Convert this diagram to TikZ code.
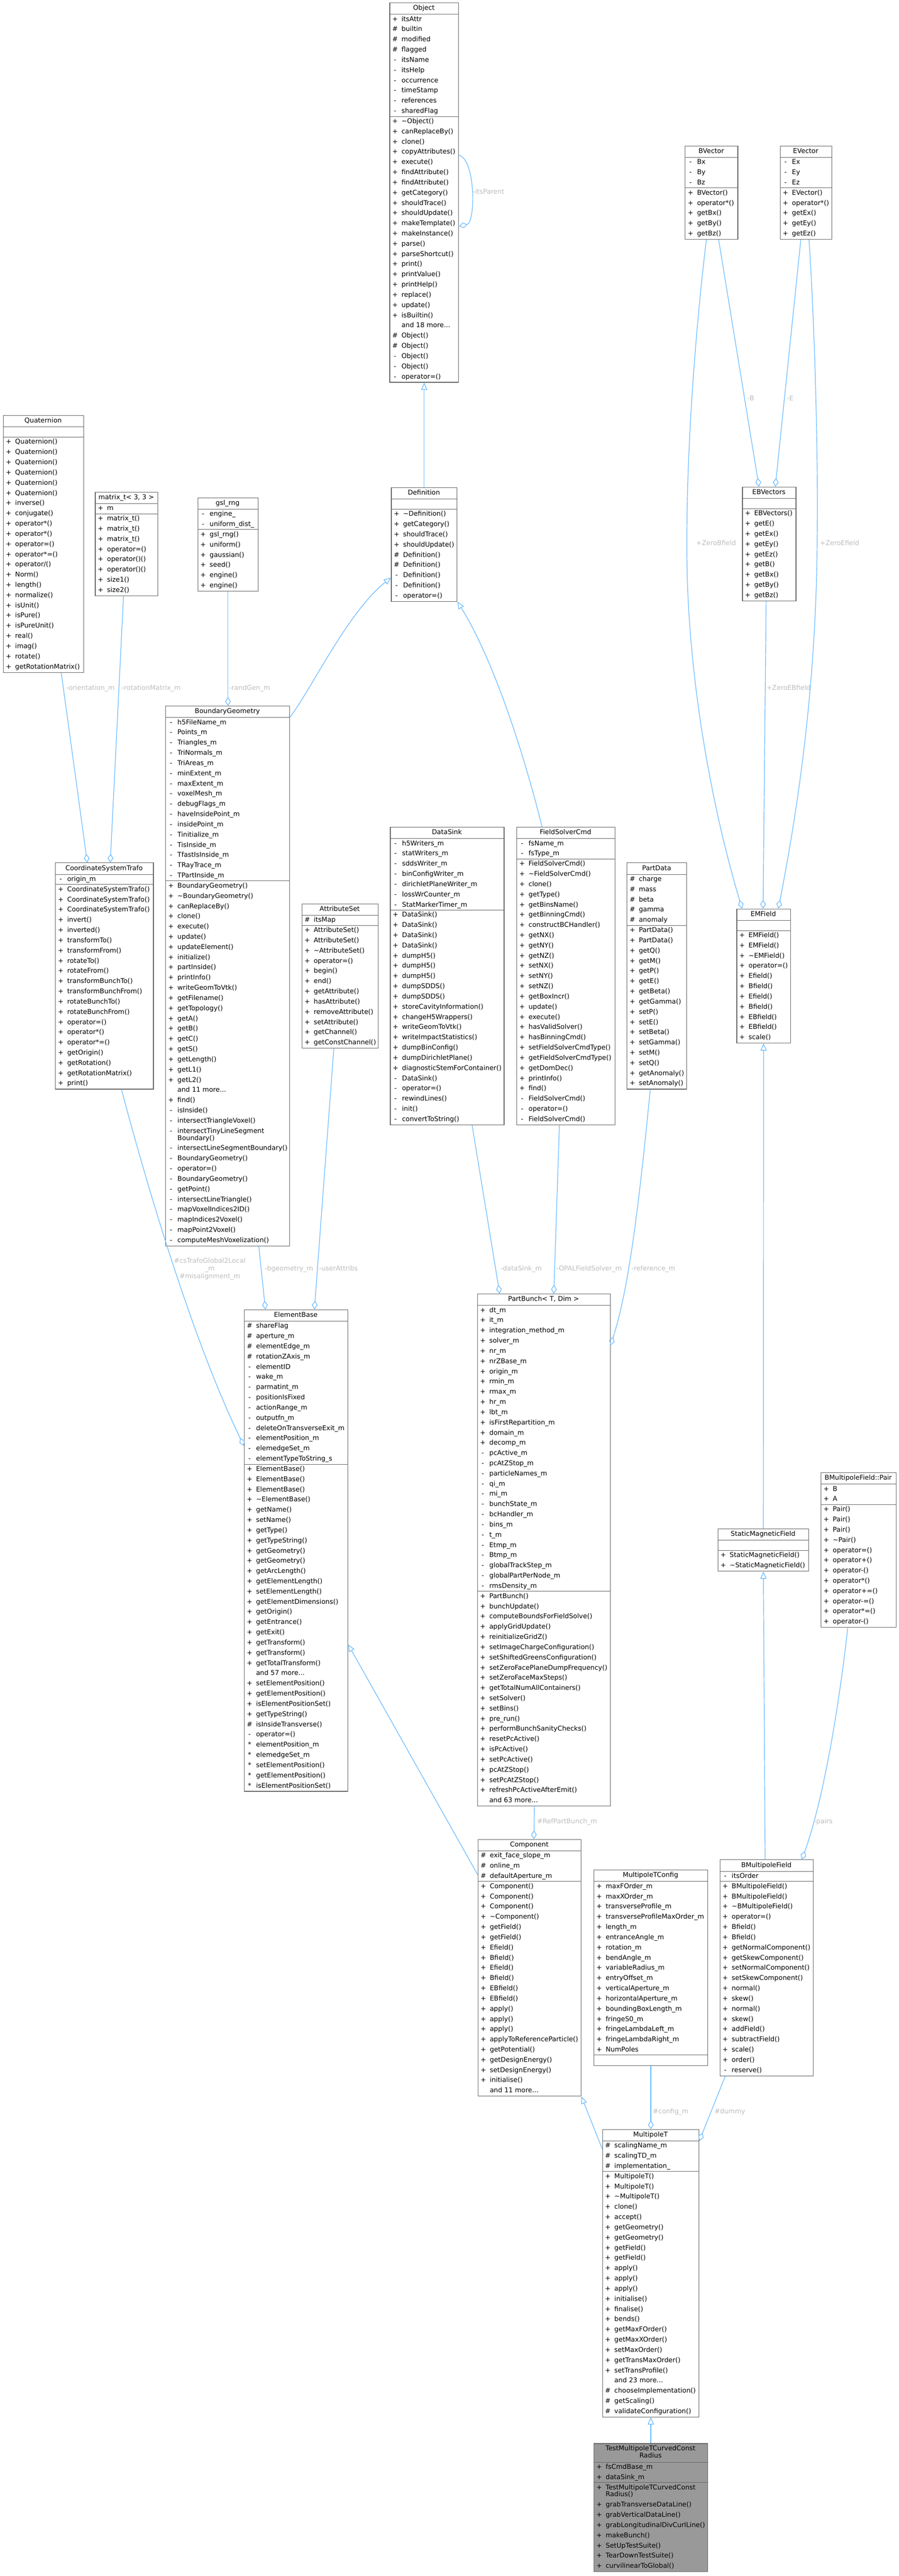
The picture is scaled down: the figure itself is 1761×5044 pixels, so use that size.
\documentclass[tikz,border=0pt]{standalone}
\usepackage{fontspec}
\setmainfont{DejaVu Sans}
\usetikzlibrary{arrows.meta,calc}
\pgfdeclarelayer{boxes}
\pgfsetlayers{boxes,main}
\definecolor{boxline}{HTML}{666666}
\definecolor{edgecol}{HTML}{63B8FF}
\definecolor{lblcol}{HTML}{BEBEBE}
\definecolor{hlfill}{HTML}{999999}
\newcount\Rk
\newcommand\CAdv[1]{\pgfmathsetmacro\tmpy{\Cy+#1}\xdef\Cy{\tmpy}}
\newcommand\CBegin[4]{\xdef\Bn{#1}\xdef\Bx{#2}\xdef\By{#3}\xdef\Bw{#4}\xdef\Cy{#3}\global\Rk=0\relax}
\newcommand\CTitle[1]{\node[titletext] (\Bn-title) at (\Bx+\Bw/2,\Cy+11.5) {#1};\CAdv{23}}
\newcommand\CTitleTwo[2]{\node[titletext] (\Bn-title) at (\Bx+\Bw/2,\Cy+11) {#1};\node[titletext] (\Bn-titleb) at (\Bx+\Bw/2,\Cy+25) {#2};\CAdv{37}}
\newcommand\CSep{\draw[sepline] (\Bx,\Cy) -- (\Bx+\Bw,\Cy);}
\newcommand\CRow[2]{\global\advance\Rk by 1\relax\node[rowmark] (\Bn-m\the\Rk) at (\Bx+11,\Cy+10) {#1};\node[rowtext] (\Bn-r\the\Rk) at (\Bx+23.5,\Cy+10) {#2};\CAdv{20}}
\newcommand\CRowTwo[3]{\global\advance\Rk by 1\relax\node[rowmark] (\Bn-m\the\Rk) at (\Bx+11,\Cy+10) {#1};\node[rowtext] (\Bn-r\the\Rk) at (\Bx+23.5,\Cy+10) {#2};\node[rowtext] (\Bn-s\the\Rk) at (\Bx+23.5,\Cy+24) {#3};\CAdv{34}}
\newcommand\CEmpty{\CAdv{20}}
\newcommand\CEnd[1][]{\pgfmathsetmacro\hh{\Cy-\By}\begin{pgfonlayer}{boxes}\node[classbox,minimum width=\Bw pt,minimum height=\hh pt,#1] (\Bn) at (\Bx,\By) {};\end{pgfonlayer}}
\newcommand\tl{\textasciitilde}
\tikzset{
 x=1pt, y=-1pt,
 classbox/.style={draw=boxline, line width=1.2pt, inner sep=0pt, anchor=north west},
 sepline/.style={draw=boxline, line width=1pt},
 txt/.style={font=\fontsize{13}{15}\selectfont, inner sep=0pt, text height=9.5pt, text depth=2.5pt},
 rowtext/.style={txt, anchor=west},
 rowmark/.style={txt, anchor=center},
 titletext/.style={txt, anchor=center},
 elabel/.style={txt, text=lblcol, anchor=center},
 usage/.style={draw=edgecol, line width=1.2pt, -{Diamond[open, length=17pt, width=11pt, line width=1.2pt]}},
 inherit/.style={draw=edgecol, line width=1.2pt, -{Triangle[open, length=14pt, width=12pt, line width=1.2pt]}},
}
\begin{document}
\begin{tikzpicture}
\begin{pgfonlayer}{boxes}
\fill[white] (0,0) rectangle (1761,5044);
\end{pgfonlayer}
\useasboundingbox (0,0) rectangle (1761,5044);

% ---------------- Object
\CBegin{obj}{763}{5}{135}
\CTitle{Object}\CSep
\CRow{+}{itsAttr}\CRow{\#}{builtin}\CRow{\#}{modified}\CRow{\#}{flagged}\CRow{-}{itsName}\CRow{-}{itsHelp}\CRow{-}{occurrence}\CRow{-}{timeStamp}\CRow{-}{references}\CRow{-}{sharedFlag}\CSep
\CRow{+}{\tl Object()}\CRow{+}{canReplaceBy()}\CRow{+}{clone()}\CRow{+}{copyAttributes()}\CRow{+}{execute()}\CRow{+}{findAttribute()}\CRow{+}{findAttribute()}\CRow{+}{getCategory()}\CRow{+}{shouldTrace()}\CRow{+}{shouldUpdate()}\CRow{+}{makeTemplate()}\CRow{+}{makeInstance()}\CRow{+}{parse()}\CRow{+}{parseShortcut()}\CRow{+}{print()}\CRow{+}{printValue()}\CRow{+}{printHelp()}\CRow{+}{replace()}\CRow{+}{update()}\CRow{+}{isBuiltin()}\CRow{}{and 18 more...}\CRow{\#}{Object()}\CRow{\#}{Object()}\CRow{-}{Object()}\CRow{-}{Object()}\CRow{-}{operator=()}
\CEnd

% ---------------- BVector
\CBegin{bv}{1342}{285}{103}
\CTitle{BVector}\CSep
\CRow{-}{Bx}\CRow{-}{By}\CRow{-}{Bz}\CSep
\CRow{+}{BVector()}\CRow{+}{operator*()}\CRow{+}{getBx()}\CRow{+}{getBy()}\CRow{+}{getBz()}
\CEnd

% ---------------- EVector
\CBegin{ev}{1528}{285}{101}
\CTitle{EVector}\CSep
\CRow{-}{Ex}\CRow{-}{Ey}\CRow{-}{Ez}\CSep
\CRow{+}{EVector()}\CRow{+}{operator*()}\CRow{+}{getEx()}\CRow{+}{getEy()}\CRow{+}{getEz()}
\CEnd

% ---------------- Quaternion
\CBegin{quat}{6}{813}{157}
\CTitle{Quaternion}\CSep\CEmpty\CSep
\CRow{+}{Quaternion()}\CRow{+}{Quaternion()}\CRow{+}{Quaternion()}\CRow{+}{Quaternion()}\CRow{+}{Quaternion()}\CRow{+}{Quaternion()}\CRow{+}{inverse()}\CRow{+}{conjugate()}\CRow{+}{operator*()}\CRow{+}{operator*()}\CRow{+}{operator=()}\CRow{+}{operator*=()}\CRow{+}{operator/()}\CRow{+}{Norm()}\CRow{+}{length()}\CRow{+}{normalize()}\CRow{+}{isUnit()}\CRow{+}{isPure()}\CRow{+}{isPureUnit()}\CRow{+}{real()}\CRow{+}{imag()}\CRow{+}{rotate()}\CRow{+}{getRotationMatrix()}
\CEnd

% ---------------- matrix_t
\CBegin{mat}{186}{963}{123}
\CTitle{matrix\_t< 3, 3 >}\CSep
\CRow{+}{m}\CSep
\CRow{+}{matrix\_t()}\CRow{+}{matrix\_t()}\CRow{+}{matrix\_t()}\CRow{+}{operator=()}\CRow{+}{operator()()}\CRow{+}{operator()()}\CRow{+}{size1()}\CRow{+}{size2()}
\CEnd

% ---------------- gsl_rng
\CBegin{gsl}{387}{974}{118}
\CTitle{gsl\_rng}\CSep
\CRow{-}{engine\_}\CRow{-}{uniform\_dist\_}\CSep
\CRow{+}{gsl\_rng()}\CRow{+}{uniform()}\CRow{+}{gaussian()}\CRow{+}{seed()}\CRow{+}{engine()}\CRow{+}{engine()}
\CEnd

% ---------------- Definition
\CBegin{def}{766}{954}{129}
\CTitle{Definition}\CSep\CEmpty\CSep
\CRow{+}{\tl Definition()}\CRow{+}{getCategory()}\CRow{+}{shouldTrace()}\CRow{+}{shouldUpdate()}\CRow{\#}{Definition()}\CRow{\#}{Definition()}\CRow{-}{Definition()}\CRow{-}{Definition()}\CRow{-}{operator=()}
\CEnd

% ---------------- EBVectors
\CBegin{ebv}{1454}{953}{105}
\CTitle{EBVectors}\CSep\CEmpty\CSep
\CRow{+}{EBVectors()}\CRow{+}{getE()}\CRow{+}{getEx()}\CRow{+}{getEy()}\CRow{+}{getEz()}\CRow{+}{getB()}\CRow{+}{getBx()}\CRow{+}{getBy()}\CRow{+}{getBz()}
\CEnd

% ---------------- BoundaryGeometry
\CBegin{bg}{324}{1382}{243}
\CTitle{BoundaryGeometry}\CSep
\CRow{-}{h5FileName\_m}\CRow{-}{Points\_m}\CRow{-}{Triangles\_m}\CRow{-}{TriNormals\_m}\CRow{-}{TriAreas\_m}\CRow{-}{minExtent\_m}\CRow{-}{maxExtent\_m}\CRow{-}{voxelMesh\_m}\CRow{-}{debugFlags\_m}\CRow{-}{haveInsidePoint\_m}\CRow{-}{insidePoint\_m}\CRow{-}{Tinitialize\_m}\CRow{-}{TisInside\_m}\CRow{-}{TfastIsInside\_m}\CRow{-}{TRayTrace\_m}\CRow{-}{TPartInside\_m}\CSep
\CRow{+}{BoundaryGeometry()}\CRow{+}{\tl BoundaryGeometry()}\CRow{+}{canReplaceBy()}\CRow{+}{clone()}\CRow{+}{execute()}\CRow{+}{update()}\CRow{+}{updateElement()}\CRow{+}{initialize()}\CRow{+}{partInside()}\CRow{+}{printInfo()}\CRow{+}{writeGeomToVtk()}\CRow{+}{getFilename()}\CRow{+}{getTopology()}\CRow{+}{getA()}\CRow{+}{getB()}\CRow{+}{getC()}\CRow{+}{getS()}\CRow{+}{getLength()}\CRow{+}{getL1()}\CRow{+}{getL2()}\CRow{}{and 11 more...}\CRow{+}{find()}\CRow{-}{isInside()}\CRow{-}{intersectTriangleVoxel()}\CRowTwo{-}{intersectTinyLineSegment}{Boundary()}\CRow{-}{intersectLineSegmentBoundary()}\CRow{-}{BoundaryGeometry()}\CRow{-}{operator=()}\CRow{-}{BoundaryGeometry()}\CRow{-}{getPoint()}\CRow{-}{intersectLineTriangle()}\CRow{-}{mapVoxelIndices2ID()}\CRow{-}{mapIndices2Voxel()}\CRow{-}{mapPoint2Voxel()}\CRow{-}{computeMeshVoxelization()}
\CEnd

% ---------------- DataSink
\CBegin{ds}{764}{1619}{223}
\CTitle{DataSink}\CSep
\CRow{-}{h5Writers\_m}\CRow{-}{statWriters\_m}\CRow{-}{sddsWriter\_m}\CRow{-}{binConfigWriter\_m}\CRow{-}{dirichletPlaneWriter\_m}\CRow{-}{lossWrCounter\_m}\CRow{-}{StatMarkerTimer\_m}\CSep
\CRow{+}{DataSink()}\CRow{+}{DataSink()}\CRow{+}{DataSink()}\CRow{+}{DataSink()}\CRow{+}{dumpH5()}\CRow{+}{dumpH5()}\CRow{+}{dumpH5()}\CRow{+}{dumpSDDS()}\CRow{+}{dumpSDDS()}\CRow{+}{storeCavityInformation()}\CRow{+}{changeH5Wrappers()}\CRow{+}{writeGeomToVtk()}\CRow{+}{writeImpactStatistics()}\CRow{+}{dumpBinConfig()}\CRow{+}{dumpDirichletPlane()}\CRow{+}{diagnosticStemForContainer()}\CRow{-}{DataSink()}\CRow{-}{operator=()}\CRow{-}{rewindLines()}\CRow{-}{init()}\CRow{-}{convertToString()}
\CEnd

% ---------------- FieldSolverCmd
\CBegin{fsc}{1012}{1619}{192}
\CTitle{FieldSolverCmd}\CSep
\CRow{-}{fsName\_m}\CRow{-}{fsType\_m}\CSep
\CRow{+}{FieldSolverCmd()}\CRow{+}{\tl FieldSolverCmd()}\CRow{+}{clone()}\CRow{+}{getType()}\CRow{+}{getBinsName()}\CRow{+}{getBinningCmd()}\CRow{+}{constructBCHandler()}\CRow{+}{getNX()}\CRow{+}{getNY()}\CRow{+}{getNZ()}\CRow{+}{setNX()}\CRow{+}{setNY()}\CRow{+}{setNZ()}\CRow{+}{getBoxIncr()}\CRow{+}{update()}\CRow{+}{execute()}\CRow{+}{hasValidSolver()}\CRow{+}{hasBinningCmd()}\CRow{+}{setFieldSolverCmdType()}\CRow{+}{getFieldSolverCmdType()}\CRow{+}{getDomDec()}\CRow{+}{printInfo()}\CRow{+}{find()}\CRow{-}{FieldSolverCmd()}\CRow{-}{operator=()}\CRow{-}{FieldSolverCmd()}
\CEnd

% ---------------- CoordinateSystemTrafo
\CBegin{cst}{108}{1689}{192}
\CTitle{CoordinateSystemTrafo}\CSep
\CRow{-}{origin\_m}\CSep
\CRow{+}{CoordinateSystemTrafo()}\CRow{+}{CoordinateSystemTrafo()}\CRow{+}{CoordinateSystemTrafo()}\CRow{+}{invert()}\CRow{+}{inverted()}\CRow{+}{transformTo()}\CRow{+}{transformFrom()}\CRow{+}{rotateTo()}\CRow{+}{rotateFrom()}\CRow{+}{transformBunchTo()}\CRow{+}{transformBunchFrom()}\CRow{+}{rotateBunchTo()}\CRow{+}{rotateBunchFrom()}\CRow{+}{operator=()}\CRow{+}{operator*()}\CRow{+}{operator*=()}\CRow{+}{getOrigin()}\CRow{+}{getRotation()}\CRow{+}{getRotationMatrix()}\CRow{+}{print()}
\CEnd

% ---------------- PartData
\CBegin{pd}{1228}{1689}{117}
\CTitle{PartData}\CSep
\CRow{\#}{charge}\CRow{\#}{mass}\CRow{\#}{beta}\CRow{\#}{gamma}\CRow{\#}{anomaly}\CSep
\CRow{+}{PartData()}\CRow{+}{PartData()}\CRow{+}{getQ()}\CRow{+}{getM()}\CRow{+}{getP()}\CRow{+}{getE()}\CRow{+}{getBeta()}\CRow{+}{getGamma()}\CRow{+}{setP()}\CRow{+}{setE()}\CRow{+}{setBeta()}\CRow{+}{setGamma()}\CRow{+}{setM()}\CRow{+}{setQ()}\CRow{+}{getAnomaly()}\CRow{+}{setAnomaly()}
\CEnd

% ---------------- AttributeSet
\CBegin{as}{591}{1769}{149}
\CTitle{AttributeSet}\CSep
\CRow{\#}{itsMap}\CSep
\CRow{+}{AttributeSet()}\CRow{+}{AttributeSet()}\CRow{+}{\tl AttributeSet()}\CRow{+}{operator=()}\CRow{+}{begin()}\CRow{+}{end()}\CRow{+}{getAttribute()}\CRow{+}{hasAttribute()}\CRow{+}{removeAttribute()}\CRow{+}{setAttribute()}\CRow{+}{getChannel()}\CRow{+}{getConstChannel()}
\CEnd

% ---------------- EMField
\CBegin{emf}{1443}{1779}{105}
\CTitle{EMField}\CSep\CEmpty\CSep
\CRow{+}{EMField()}\CRow{+}{EMField()}\CRow{+}{\tl EMField()}\CRow{+}{operator=()}\CRow{+}{Efield()}\CRow{+}{Bfield()}\CRow{+}{Efield()}\CRow{+}{Bfield()}\CRow{+}{EBfield()}\CRow{+}{EBfield()}\CRow{+}{scale()}
\CEnd

% ---------------- PartBunch
\CBegin{pb}{935}{2533}{260}
\CTitle{PartBunch< T, Dim >}\CSep
\CRow{+}{dt\_m}\CRow{+}{it\_m}\CRow{+}{integration\_method\_m}\CRow{+}{solver\_m}\CRow{+}{nr\_m}\CRow{+}{nrZBase\_m}\CRow{+}{origin\_m}\CRow{+}{rmin\_m}\CRow{+}{rmax\_m}\CRow{+}{hr\_m}\CRow{+}{lbt\_m}\CRow{+}{isFirstRepartition\_m}\CRow{+}{domain\_m}\CRow{+}{decomp\_m}\CRow{-}{pcActive\_m}\CRow{-}{pcAtZStop\_m}\CRow{-}{particleNames\_m}\CRow{-}{qi\_m}\CRow{-}{mi\_m}\CRow{-}{bunchState\_m}\CRow{-}{bcHandler\_m}\CRow{-}{bins\_m}\CRow{-}{t\_m}\CRow{-}{Etmp\_m}\CRow{-}{Btmp\_m}\CRow{-}{globalTrackStep\_m}\CRow{-}{globalPartPerNode\_m}\CRow{-}{rmsDensity\_m}\CSep
\CRow{+}{PartBunch()}\CRow{+}{bunchUpdate()}\CRow{+}{computeBoundsForFieldSolve()}\CRow{+}{applyGridUpdate()}\CRow{+}{reinitializeGridZ()}\CRow{+}{setImageChargeConfiguration()}\CRow{+}{setShiftedGreensConfiguration()}\CRow{+}{setZeroFacePlaneDumpFrequency()}\CRow{+}{setZeroFaceMaxSteps()}\CRow{+}{getTotalNumAllContainers()}\CRow{+}{setSolver()}\CRow{+}{setBins()}\CRow{+}{pre\_run()}\CRow{+}{performBunchSanityChecks()}\CRow{+}{resetPcActive()}\CRow{+}{isPcActive()}\CRow{+}{setPcActive()}\CRow{+}{pcAtZStop()}\CRow{+}{setPcAtZStop()}\CRow{+}{refreshPcActiveAfterEmit()}\CRow{}{and 63 more...}
\CEnd

% ---------------- ElementBase
\CBegin{eb}{478}{2564}{203}
\CTitle{ElementBase}\CSep
\CRow{\#}{shareFlag}\CRow{\#}{aperture\_m}\CRow{\#}{elementEdge\_m}\CRow{\#}{rotationZAxis\_m}\CRow{-}{elementID}\CRow{-}{wake\_m}\CRow{-}{parmatint\_m}\CRow{-}{positionIsFixed}\CRow{-}{actionRange\_m}\CRow{-}{outputfn\_m}\CRow{-}{deleteOnTransverseExit\_m}\CRow{-}{elementPosition\_m}\CRow{-}{elemedgeSet\_m}\CRow{-}{elementTypeToString\_s}\CSep
\CRow{+}{ElementBase()}\CRow{+}{ElementBase()}\CRow{+}{ElementBase()}\CRow{+}{\tl ElementBase()}\CRow{+}{getName()}\CRow{+}{setName()}\CRow{+}{getType()}\CRow{+}{getTypeString()}\CRow{+}{getGeometry()}\CRow{+}{getGeometry()}\CRow{+}{getArcLength()}\CRow{+}{getElementLength()}\CRow{+}{setElementLength()}\CRow{+}{getElementDimensions()}\CRow{+}{getOrigin()}\CRow{+}{getEntrance()}\CRow{+}{getExit()}\CRow{+}{getTransform()}\CRow{+}{getTransform()}\CRow{+}{getTotalTransform()}\CRow{}{and 57 more...}\CRow{+}{setElementPosition()}\CRow{+}{getElementPosition()}\CRow{+}{isElementPositionSet()}\CRow{+}{getTypeString()}\CRow{\#}{isInsideTransverse()}\CRow{-}{operator=()}\CRow{*}{elementPosition\_m}\CRow{*}{elemedgeSet\_m}\CRow{*}{setElementPosition()}\CRow{*}{getElementPosition()}\CRow{*}{isElementPositionSet()}
\CEnd

% ---------------- BMultipoleField::Pair
\CBegin{pair}{1608}{2883}{147}
\CTitle{BMultipoleField::Pair}\CSep
\CRow{+}{B}\CRow{+}{A}\CSep
\CRow{+}{Pair()}\CRow{+}{Pair()}\CRow{+}{Pair()}\CRow{+}{\tl Pair()}\CRow{+}{operator=()}\CRow{+}{operator+()}\CRow{+}{operator-()}\CRow{+}{operator*()}\CRow{+}{operator+=()}\CRow{+}{operator-=()}\CRow{+}{operator*=()}\CRow{+}{operator-()}
\CEnd

% ---------------- StaticMagneticField
\CBegin{smf}{1406}{2993}{178}
\CTitle{StaticMagneticField}\CSep\CEmpty\CSep
\CRow{+}{StaticMagneticField()}\CRow{+}{\tl StaticMagneticField()}
\CEnd

% ---------------- Component
\CBegin{comp}{936}{3601}{202}
\CTitle{Component}\CSep
\CRow{\#}{exit\_face\_slope\_m}\CRow{\#}{online\_m}\CRow{\#}{defaultAperture\_m}\CSep
\CRow{+}{Component()}\CRow{+}{Component()}\CRow{+}{Component()}\CRow{+}{\tl Component()}\CRow{+}{getField()}\CRow{+}{getField()}\CRow{+}{Efield()}\CRow{+}{Bfield()}\CRow{+}{Efield()}\CRow{+}{Bfield()}\CRow{+}{EBfield()}\CRow{+}{EBfield()}\CRow{+}{apply()}\CRow{+}{apply()}\CRow{+}{apply()}\CRow{+}{applyToReferenceParticle()}\CRow{+}{getPotential()}\CRow{+}{getDesignEnergy()}\CRow{+}{setDesignEnergy()}\CRow{+}{initialise()}\CRow{}{and 11 more...}
\CEnd

% ---------------- BMultipoleField
\CBegin{bmf}{1410}{3641}{183}
\CTitle{BMultipoleField}\CSep
\CRow{-}{itsOrder}\CSep
\CRow{+}{BMultipoleField()}\CRow{+}{BMultipoleField()}\CRow{+}{\tl BMultipoleField()}\CRow{+}{operator=()}\CRow{+}{Bfield()}\CRow{+}{Bfield()}\CRow{+}{getNormalComponent()}\CRow{+}{getSkewComponent()}\CRow{+}{setNormalComponent()}\CRow{+}{setSkewComponent()}\CRow{+}{normal()}\CRow{+}{skew()}\CRow{+}{normal()}\CRow{+}{skew()}\CRow{+}{addField()}\CRow{+}{subtractField()}\CRow{+}{scale()}\CRow{+}{order()}\CRow{-}{reserve()}
\CEnd

% ---------------- MultipoleTConfig
\CBegin{mtc}{1163}{3661}{223}
\CTitle{MultipoleTConfig}\CSep
\CRow{+}{maxFOrder\_m}\CRow{+}{maxXOrder\_m}\CRow{+}{transverseProfile\_m}\CRow{+}{transverseProfileMaxOrder\_m}\CRow{+}{length\_m}\CRow{+}{entranceAngle\_m}\CRow{+}{rotation\_m}\CRow{+}{bendAngle\_m}\CRow{+}{variableRadius\_m}\CRow{+}{entryOffset\_m}\CRow{+}{verticalAperture\_m}\CRow{+}{horizontalAperture\_m}\CRow{+}{boundingBoxLength\_m}\CRow{+}{fringeS0\_m}\CRow{+}{fringeLambdaLeft\_m}\CRow{+}{fringeLambdaRight\_m}\CRow{+}{NumPoles}\CSep\CEmpty
\CEnd

% ---------------- MultipoleT
\CBegin{mt}{1180}{4169}{189}
\CTitle{MultipoleT}\CSep
\CRow{\#}{scalingName\_m}\CRow{\#}{scalingTD\_m}\CRow{\#}{implementation\_}\CSep
\CRow{+}{MultipoleT()}\CRow{+}{MultipoleT()}\CRow{+}{\tl MultipoleT()}\CRow{+}{clone()}\CRow{+}{accept()}\CRow{+}{getGeometry()}\CRow{+}{getGeometry()}\CRow{+}{getField()}\CRow{+}{getField()}\CRow{+}{apply()}\CRow{+}{apply()}\CRow{+}{apply()}\CRow{+}{initialise()}\CRow{+}{finalise()}\CRow{+}{bends()}\CRow{+}{getMaxFOrder()}\CRow{+}{getMaxXOrder()}\CRow{+}{setMaxOrder()}\CRow{+}{getTransMaxOrder()}\CRow{+}{setTransProfile()}\CRow{}{and 23 more...}\CRow{\#}{chooseImplementation()}\CRow{\#}{getScaling()}\CRow{\#}{validateConfiguration()}
\CEnd

% ---------------- TestMultipoleTCurvedConstRadius
\CBegin{tmt}{1163}{4784}{223}
\CTitleTwo{TestMultipoleTCurvedConst}{Radius}\CSep
\CRow{+}{fsCmdBase\_m}\CRow{+}{dataSink\_m}\CSep
\CRowTwo{+}{TestMultipoleTCurvedConst}{Radius()}\CRow{+}{grabTransverseDataLine()}\CRow{+}{grabVerticalDataLine()}\CRow{+}{grabLongitudinalDivCurlLine()}\CRow{+}{makeBunch()}\CRow{+}{SetUpTestSuite()}\CRow{+}{TearDownTestSuite()}\CRow{+}{curvilinearToGlobal()}
\CEnd[fill=hlfill]

% ================= connectors
\draw[usage] ([yshift=-299pt]obj.north east) .. controls (932,312) and (932,436) .. ([yshift=-438pt]obj.north east);
\node[elabel, anchor=west] (l-itsparent) at (926,376) {-itsParent};

\draw[inherit] (def.north) -- (obj.south);
\draw[inherit] ([yshift=-22pt]bg.north east) .. controls (610,1350) and (680,1200) .. ([yshift=-177pt]def.north west);
\draw[inherit] ([xshift=50pt]fsc.north west) .. controls (1020,1450) and (960,1280) .. (def.south east);

\draw[usage] ([xshift=114pt]quat.south west) -- ([xshift=63pt]cst.north west);
\node[elabel] (l-orient) at (177,1348) {-orientation\_m};
\draw[usage] ([xshift=56pt]mat.south west) -- ([xshift=108pt]cst.north west);
\node[elabel] (l-rotm) at (296,1348) {-rotationMatrix\_m};
\draw[usage] (gsl.south) -- (gsl.south |- bg.north);
\node[elabel] (l-rand) at (489,1348) {-randGen\_m};

\draw[usage] ([xshift=130pt]cst.south west) .. controls (290,2330) and (380,2630) .. ([yshift=-267pt]eb.north west);
\node[elabel] (l-cst1) at (411,2470) {\#csTrafoGlobal2Local};
\node[elabel] (l-cst2) at (411,2485) {\_m};
\node[elabel] (l-cst3) at (411,2500) {\#misalignment\_m};
\draw[usage] ([xshift=183pt]bg.south west) -- ([xshift=42pt]eb.north west);
\node[elabel] (l-bgeo) at (566,2485) {-bgeometry\_m};
\draw[usage] ([xshift=63pt]as.south west) -- ([xshift=138pt]eb.north west);
\node[elabel] (l-uattr) at (663,2485) {-userAttribs};
\draw[inherit] ([yshift=-70pt]comp.north west) -- ([yshift=-656pt]eb.north east);

\draw[usage] ([xshift=161pt]ds.south west) -- ([xshift=44pt]pb.north west);
\node[elabel] (l-dsink) at (1021,2485) {-dataSink\_m};
\draw[usage] ([xshift=84pt]fsc.south west) -- ([xshift=150pt]pb.north west);
\node[elabel] (l-opalfs) at (1154,2485) {-OPALFieldSolver\_m};
\draw[usage] ([xshift=46pt]pd.south west) .. controls (1250,2380) and (1230,2530) .. ([yshift=-101pt]pb.north east);
\node[elabel] (l-ref) at (1280,2485) {-reference\_m};

\draw[usage] ([xshift=112pt]pb.south west) -- ([xshift=110pt]comp.north west);
\node[elabel] (l-refpb) at (1111,3567) {\#RefPartBunch\_m};
\draw[inherit] ([yshift=-39pt]mt.north west) -- (comp.south east);
\draw[usage] (mtc.south) -- (mt.north);
\node[elabel] (l-config) at (1314,4135) {\#config\_m};
\draw[usage] ([xshift=11pt]bmf.south west) -- ([yshift=-23pt]mt.north east);
\node[elabel] (l-dummy) at (1430,4135) {\#dummy};
\draw[inherit] (tmt.north) -- (mt.south);

\draw[inherit] (smf.north) -- (emf.south);
\draw[inherit] ([xshift=-3pt]bmf.north) -- (smf.south);
\draw[usage] ([xshift=53pt]pair.south west) .. controls (1645,3330) and (1615,3520) .. ([xshift=161pt]bmf.north west);
\node[elabel] (l-pairs) at (1613,3567) {-pairs};

\draw[usage] ([xshift=66pt]bv.south west) -- ([xshift=33pt]ebv.north west);
\node[elabel] (l-b) at (1471,781) {-B};
\draw[usage] ([xshift=41pt]ev.south west) -- ([xshift=65pt]ebv.north west);
\node[elabel] (l-e) at (1548,781) {-E};
\draw[usage] ([xshift=42pt]bv.south west) .. controls (1362,650) and (1343,900) .. (1346,1106) .. controls (1350,1350) and (1400,1600) .. ([xshift=11pt]emf.north west);
\node[elabel] (l-zb) at (1403,1064) {+ZeroBfield};
\draw[usage] ([xshift=57pt]ev.south west) .. controls (1597,650) and (1603,900) .. (1601,1050) .. controls (1600,1350) and (1560,1600) .. ([xshift=82pt]emf.north west);
\node[elabel] (l-ze) at (1645,1064) {+ZeroEfield};
\draw[usage] ([xshift=47pt]ebv.south west) -- ([xshift=52pt]emf.north west);
\node[elabel] (l-zeb) at (1545,1348) {+ZeroEBfield};
\end{tikzpicture}
\end{document}
